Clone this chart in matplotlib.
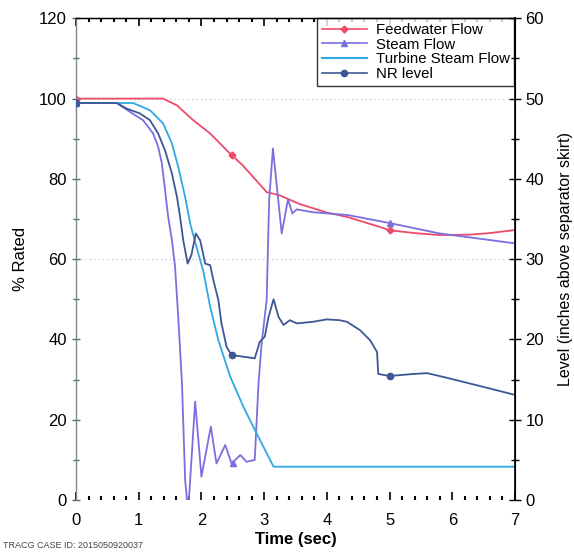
import matplotlib
matplotlib.use("Agg")
import matplotlib.pyplot as plt
from matplotlib.ticker import MultipleLocator

plt.rcParams['font.family'] = ['Liberation Sans', 'DejaVu Sans']

# Feedwater flow (% rated)
fw_t = [0.0, 1.39, 1.61, 1.87, 2.14, 2.43, 2.65, 2.83, 3.04, 3.25, 3.57, 3.78, 4.0, 4.33, 4.85, 5.0, 5.4, 5.8, 6.28, 6.6, 6.97]
fw_v = [100.0, 100.0, 98.3, 94.6, 91.3, 86.7, 83.5, 80.4, 76.7, 75.9, 73.7, 72.7, 71.6, 70.5, 68.0, 67.2, 66.5, 66.0, 66.1, 66.5, 67.2]

# Steam flow (% rated)
sf_t = [0.0, 0.65, 0.86, 1.07, 1.23, 1.31, 1.37, 1.42, 1.47, 1.53, 1.58, 1.63, 1.69, 1.74, 1.77, 1.80, 1.9, 2.0, 2.15,
        2.24, 2.38, 2.48, 2.62, 2.72, 2.85, 2.91, 2.96, 3.04, 3.08, 3.14, 3.28, 3.38, 3.45, 3.52, 3.78, 4.33, 5.0, 5.8, 6.97]
sf_v = [98.9, 98.9, 96.7, 94.6, 91.3, 88.0, 83.8, 77.2, 70.5, 64.7, 58.0, 45.6, 29.1, 5.0, 0.0, 0.0, 24.5, 5.8, 18.3,
        9.1, 13.7, 9.1, 11.2, 9.5, 10.0, 29.0, 39.0, 49.8, 74.7, 87.6, 66.4, 74.9, 71.4, 72.4, 71.7, 71.0, 69.0, 66.4, 64.0]

# Turbine steam flow (% rated)
ts_t = [0.0, 0.91, 1.18, 1.39, 1.53, 1.63, 1.74, 1.82, 1.92, 2.03, 2.14, 2.27, 2.46, 2.67, 2.88, 3.15, 7.0]
ts_v = [98.9, 98.9, 97.1, 93.8, 88.8, 83.0, 75.5, 68.9, 63.1, 57.0, 48.1, 39.8, 30.7, 23.2, 16.6, 8.3, 8.3]

# NR level (inches above separator skirt)
nr_t = [0.0, 0.65, 0.81, 1.02, 1.18, 1.31, 1.42, 1.53, 1.61, 1.66, 1.71, 1.78, 1.84, 1.91, 1.98, 2.06, 2.14, 2.19,
        2.27, 2.32, 2.4, 2.48, 2.67, 2.85, 2.93, 3.01, 3.07, 3.15, 3.23, 3.31, 3.41, 3.52, 3.78, 4.0, 4.2, 4.32, 4.53,
        4.69, 4.8, 4.82, 5.0, 5.38, 5.6, 5.9, 6.44, 6.97]
nr_v = [49.45, 49.45, 48.75, 48.15, 47.3, 45.65, 43.55, 40.65, 37.75, 35.25, 32.35, 29.45, 30.5, 33.2, 32.35, 29.45,
        29.25, 27.4, 24.9, 22.0, 19.1, 18.05, 17.85, 17.65, 19.7, 20.35, 22.8, 25.0, 22.8, 21.8, 22.4, 22.0, 22.2, 22.5,
        22.4, 22.2, 21.15, 19.9, 18.45, 15.7, 15.45, 15.7, 15.8, 15.25, 14.2, 13.15]

fw_mark = ([0.0, 2.48, 5.0], [100.0, 85.9, 67.2])
sf_mark = ([0.0, 2.5, 5.0], [98.9, 9.3, 69.0])
nr_mark = ([0.0, 2.48, 5.0], [49.45, 18.05, 15.45])

x_ticks = [0, 1, 2, 3, 4, 5, 6, 7]
left_ticks = [0, 20, 40, 60, 80, 100, 120]
right_ticks = [0, 10, 20, 30, 40, 50, 60]

c_fw = '#ee4a6a'
c_sf = '#7a6fe0'
c_ts = '#2fa8e6'
c_nr = '#3d5795'

fig = plt.figure(figsize=(5.74, 5.52), dpi=100)
ax = fig.add_axes([0.1324, 0.0942, 0.7648, 0.8726])
ax2 = ax.twinx()

ax.plot(fw_t, fw_v, color=c_fw, lw=1.3)
ax.plot(sf_t, sf_v, color=c_sf, lw=1.3)
ax.plot(ts_t, ts_v, color=c_ts, lw=1.3)
ax2.plot(nr_t, nr_v, color=c_nr, lw=1.3)
ax.plot(*fw_mark, ls='none', marker='D', ms=3.5, color=c_fw)
ax.plot(*sf_mark, ls='none', marker='^', ms=4.5, color=c_sf)
ax2.plot(*nr_mark, ls='none', marker='o', ms=4.5, color=c_nr)

# legend proxies
h1, = ax.plot([], [], color=c_fw, lw=1.2, marker='D', ms=3.5, label='Feedwater Flow')
h2, = ax.plot([], [], color=c_sf, lw=1.2, marker='^', ms=4.5, label='Steam Flow')
h3, = ax.plot([], [], color=c_ts, lw=1.5, label='Turbine Steam Flow')
h4, = ax.plot([], [], color=c_nr, lw=1.2, marker='o', ms=4.5, label='NR level')
leg = ax.legend(handles=[h1, h2, h3, h4], loc='upper right', fontsize=10.8, frameon=True, fancybox=False,
                borderpad=0.3, labelspacing=0.05, handlelength=3.0, handletextpad=0.6, borderaxespad=0.0,
                bbox_to_anchor=(0.998, 1.0))
leg.get_frame().set_edgecolor('black')
leg.get_frame().set_linewidth(1.0)

ax.set_xlim(0, 7)
ax.set_ylim(0, 120)
ax2.set_ylim(0, 60)
ax.set_xticks(x_ticks)
ax.xaxis.set_minor_locator(MultipleLocator(0.2))
ax.set_yticks(left_ticks)
ax.yaxis.set_minor_locator(MultipleLocator(10))
ax2.set_yticks(right_ticks)
ax2.yaxis.set_minor_locator(MultipleLocator(5))

for y in [60, 100]:
    ax.axhline(y, color='#bbbbbb', lw=0.8, ls=(0, (1, 3)), zorder=0)

ax.spines['bottom'].set_visible(False)
ax2.spines['bottom'].set_visible(False)
ax.spines['left'].set_color('#7a8a8a')
ax.spines['left'].set_linewidth(1.0)
ax2.spines['left'].set_visible(False)
ax2.spines['right'].set_linewidth(1.2)
ax2.spines['top'].set_linewidth(1.0)

ax.tick_params(axis='x', which='major', direction='in', length=6, width=1.2, labelsize=12, pad=9, top=True)
ax.tick_params(axis='x', which='minor', direction='in', length=3, width=1.5, top=True)
ax.tick_params(axis='y', which='major', direction='inout', length=6, width=1.0, labelsize=12, color='#556666')
ax.tick_params(axis='y', which='minor', direction='inout', length=4, width=1.0, color='#556666')
ax2.tick_params(axis='y', which='major', direction='inout', length=8, width=1.0, labelsize=12)
ax2.tick_params(axis='y', which='minor', direction='inout', length=6, width=1.0)

ax.set_xlabel('Time (sec)', fontsize=12, fontweight='bold', labelpad=3)
ax.set_ylabel('% Rated', fontsize=12, labelpad=8)
ax2.set_ylabel('Level (inches above separator skirt)', fontsize=11.5, labelpad=10)

fig.text(0.005, 0.008, 'TRACG CASE ID: 2015050920037', fontsize=6.5, color='#444444')

fig.savefig('out.png', dpi=100)
